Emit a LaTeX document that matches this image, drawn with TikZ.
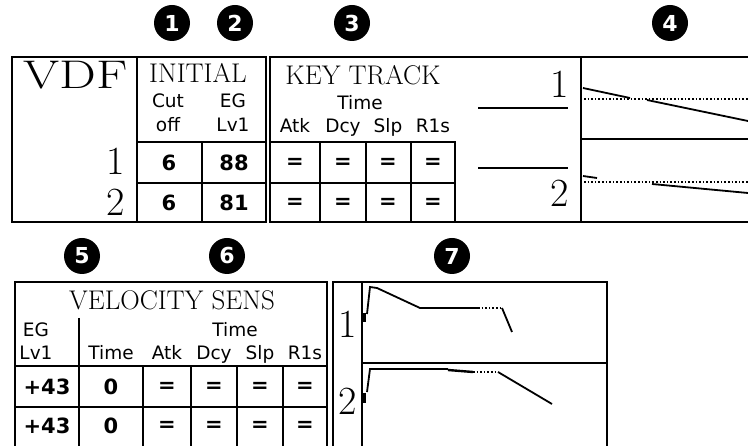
\documentclass[tikz,border=0pt]{standalone}
\usepackage{fontspec}
\setsansfont{DejaVu Sans}
\begin{document}
\begin{tikzpicture}[x=1pt,y=-1pt,inner sep=0pt,
  badge/.style={circle,fill=black,text=white,minimum size=36pt,font=\sffamily\bfseries\fontsize{22}{22}\selectfont},
  big/.style={font=\fontsize{40}{40}\selectfont,anchor=base east},
  head/.style={font=\fontsize{27}{27}\selectfont,anchor=base},
  lbl/.style={font=\sffamily\fontsize{18.5}{18.5}\selectfont,anchor=base},
  val/.style={font=\sffamily\bfseries\fontsize{21}{21}\selectfont},
  frame/.style={line width=2.6pt},
  rule/.style={line width=1.6pt},
  env/.style={line width=1.8pt},
  dots/.style={line width=1.6pt,dotted}]
\useasboundingbox (0,0) rectangle (748,446);
\node[badge] (b1) at (172,23) {1};
\node[badge] (b2) at (235,23) {2};
\node[badge] (b3) at (352,23) {3};
\node[badge] (b4) at (670,23) {4};
\node[badge] (b5) at (82,256) {5};
\node[badge] (b6) at (227,256) {6};
\node[badge] (b7) at (452,256) {7};
\begin{scope}
\draw[frame] (12,57) rectangle (266,222);
\draw[rule] (137,57) -- (137,222) (137,142) -- (266,142) (137,183) -- (266,183) (202,142) -- (202,222);
\node[big,anchor=base] (vdf) at (76,89) {\scalebox{1.3}[1]{VDF}};
\node[big] (vdf1) at (125,175) {1};\node[big] (vdf2) at (125,216) {2};
\node[head] (init) at (198,83) {INITIAL};
\node[lbl] (cut) at (168,108) {Cut};\node[lbl] (off) at (168,132) {off};
\node[lbl] (eg) at (233,108) {EG};\node[lbl] (lvl) at (233,132) {Lv1};
\node[val] (cut1) at (169,163) {6};\node[val] (lvl1) at (234,163) {88};
\node[val] (cut2) at (169,203) {6};\node[val] (lvl2) at (234,203) {81};
\end{scope}
\begin{scope}
\draw[frame] (748,57) -| (270,222) -- (748,222);
\draw[frame] (581,57) -- (581,222);
\draw[rule] (581,139) -- (748,139);
\draw[rule] (270,142) -- (455,142) -- (455,222) (270,183) -- (455,183);
\foreach \x in {320,366,411} \draw[rule] (\x,142) -- (\x,222);
\node[head] (key) at (363,85) {KEY TRACK};
\node[lbl] (ktime) at (360,110) {Time};
\foreach \x/\t/\n in {295/Atk/katk,343/Dcy/kdcy,388/Slp/kslp,433/R1s/krls}
  \node[lbl] (\n) at (\x,133) {\t};
\foreach \x in {295,343,388,433} {
  \node[val] (keq1\x) at (\x,163) {=};
  \node[val] (keq2\x) at (\x,203) {=};
}
\node[big] (key1) at (569,98) {1};\node[big] (key2) at (569,207) {2};
\draw[rule] (478,108) -- (568,108) (478,168) -- (568,168);
\draw[dots] (584,99) -- (748,99);
\draw[env] (583,88) -- (630,98);
\draw[env] (647,100) -- (748,121);
\draw[dots] (584,182) -- (748,182);
\draw[env] (583,176) -- (597,178);
\draw[env] (652,184) -- (748,193);
\end{scope}
\begin{scope}
\draw[frame] (15,446) |- (327,282) -- (327,446);
\draw[rule] (15,366) -- (327,366) (15,407) -- (327,407) (79,318) -- (79,446);
\foreach \x in {143,191,237,283} \draw[rule] (\x,366) -- (\x,446);
\node[head] (vel) at (172,310) {VELOCITY SENS};
\node[lbl] (veg) at (36,337) {EG};\node[lbl] (vlvl) at (36,360) {Lv1};
\node[lbl] (vtime) at (235,337) {Time};
\foreach \x/\t/\n in {111/Time/vtim,167/Atk/vatk,214/Dcy/vdcy,260/Slp/vslp,305/R1s/vrls}
  \node[lbl] (\n) at (\x,360) {\t};
\node[val] (vlv1) at (47,387) {+43};\node[val] (vlv2) at (47,426) {+43};
\node[val] (vt1) at (111,387) {0};\node[val] (vt2) at (111,426) {0};
\foreach \x in {167,214,260,305} {
  \node[val] (veq1\x) at (\x,387) {=};
  \node[val] (veq2\x) at (\x,426) {=};
}
\end{scope}
\begin{scope}
\draw[frame] (333,446) |- (607,282) -- (607,446);
\draw[rule] (362,282) -- (362,446) (362,363) -- (607,363);
\node[big] (env1) at (357,338) {1};\node[big] (env2) at (357,415) {2};
\draw[line width=3pt] (364,313) -- (364,322);
\draw[env] (367,314) -- (370,287) -- (377,288) -- (420,308) -- (478,308);
\draw[dots] (478,308) -- (502,308);
\draw[env] (502,308) -- (512,332);
\draw[line width=3pt] (364,393) -- (364,403);
\draw[env] (367,392) -- (370,369) -- (448,369);
\draw[line width=2.4pt] (448,370) -- (473,372);
\draw[dots] (473,372) -- (498,372);
\draw[env] (498,372) -- (552,404);
\end{scope}
\end{tikzpicture}
\end{document}
